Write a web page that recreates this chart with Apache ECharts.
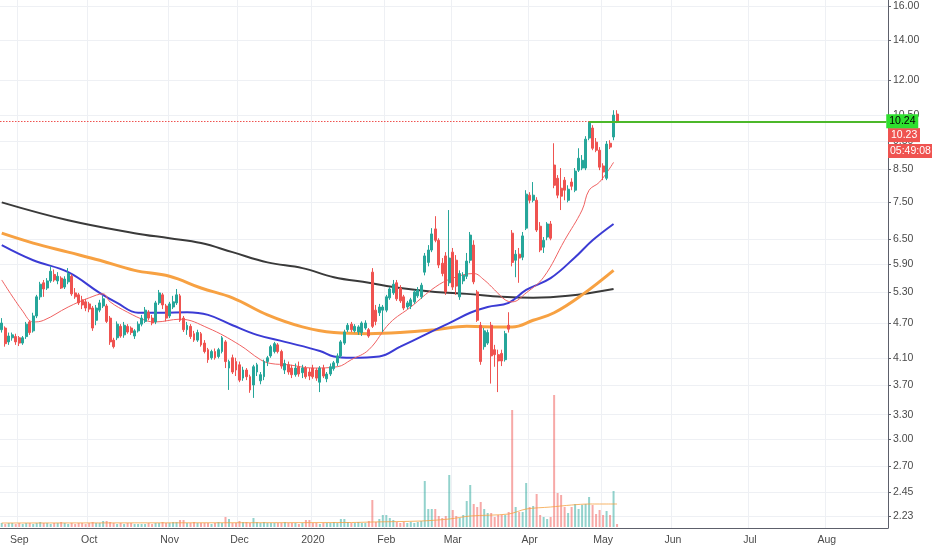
<!DOCTYPE html>
<html>
<head>
<meta charset="utf-8">
<script src="https://cdn.jsdelivr.net/npm/echarts@6/dist/echarts.min.js"></script>
<style>
  html, body { margin: 0; padding: 0; background: #fff; }
  #chart { width: 932px; height: 550px; }
</style>
</head>
<body>
<div id="chart"></div>
<script>
// daily bars, [open, close, low, high]
var ohlc = [
  [4.58,4.70,4.53,4.79],[4.61,4.34,4.29,4.64],[4.37,4.47,4.32,4.53],[4.44,4.49,4.39,4.53],[4.46,4.37,4.32,4.51],
  [4.44,4.35,4.30,4.47],[4.35,4.44,4.32,4.47],[4.46,4.68,4.42,4.72],[4.72,4.53,4.49,4.75],[4.56,4.83,4.53,4.89],
  [4.83,5.20,4.79,5.24],[5.20,5.46,5.14,5.51],[5.49,5.36,5.20,5.55],[5.38,5.53,5.34,5.59],[5.53,5.74,5.49,5.85],
  [5.67,5.55,5.51,5.78],[5.53,5.63,5.46,5.72],[5.59,5.38,5.36,5.63],[5.40,5.57,5.36,5.63],[5.51,5.69,5.46,5.81],
  [5.63,5.26,5.22,5.67],[5.28,5.20,5.16,5.38],[5.24,5.08,5.04,5.28],[5.14,5.04,4.96,5.22],[5.10,4.98,4.92,5.16],
  [5.06,4.96,4.90,5.10],[4.98,4.61,4.56,5.02],[4.75,4.98,4.66,5.04],[4.94,5.08,4.90,5.14],[5.02,5.16,4.98,5.22],
  [5.02,4.73,4.70,5.06],[4.79,4.37,4.32,4.83],[4.40,4.29,4.26,4.44],[4.44,4.68,4.40,4.73],[4.64,4.47,4.44,4.68],
  [4.49,4.66,4.44,4.72],[4.64,4.54,4.51,4.68],[4.61,4.53,4.49,4.64],[4.47,4.56,4.42,4.59],[4.56,4.68,4.53,4.73],
  [4.68,4.79,4.64,4.85],[4.73,4.94,4.70,5.00],[4.90,4.79,4.75,4.94],[4.79,4.70,4.66,4.85],[4.72,5.08,4.68,5.12],
  [5.08,5.28,5.04,5.34],[5.24,5.04,4.96,5.28],[5.02,4.79,4.73,5.06],[4.83,5.06,4.79,5.10],[5.00,5.10,4.96,5.22],
  [5.08,5.24,5.04,5.36],[5.22,4.75,4.72,5.26],[4.79,4.58,4.54,4.83],[4.58,4.66,4.49,4.72],[4.64,4.46,4.42,4.68],
  [4.51,4.40,4.37,4.56],[4.40,4.53,4.37,4.58],[4.51,4.32,4.29,4.54],[4.35,4.21,4.18,4.40],[4.24,4.08,4.03,4.27],
  [4.11,4.21,4.08,4.24],[4.21,4.11,4.08,4.26],[4.13,4.24,4.10,4.27],[4.21,4.44,4.18,4.47],[4.37,4.05,3.95,4.40],
  [3.95,4.05,3.63,4.08],[4.11,3.89,3.86,4.16],[4.05,3.92,3.83,4.11],[4.00,3.77,3.74,4.05],[3.80,3.92,3.76,3.97],
  [3.92,3.82,3.77,3.95],[3.82,3.63,3.59,3.85],[3.70,3.97,3.52,4.00],[3.89,4.00,3.83,4.03],[3.76,3.85,3.71,3.89],
  [3.82,4.05,3.77,4.08],[4.05,4.11,3.98,4.14],[4.14,4.29,4.11,4.32],[4.21,4.34,4.18,4.37],[4.32,4.21,4.18,4.35],
  [4.21,3.98,3.94,4.24],[3.92,4.02,3.86,4.08],[4.00,3.89,3.85,4.05],[3.95,3.85,3.80,4.00],[3.85,3.95,3.82,4.02],
  [3.97,3.86,3.82,4.05],[3.88,3.95,3.80,4.00],[3.95,3.82,3.79,3.98],[3.89,3.83,3.77,3.95],[3.95,3.82,3.79,4.00],
  [3.92,3.80,3.76,3.95],[3.74,3.95,3.60,3.98],[3.95,3.83,3.80,4.00],[3.79,3.86,3.74,3.89],[3.86,3.97,3.83,4.02],
  [3.94,4.03,3.91,4.06],[4.03,4.14,3.98,4.18],[4.14,4.37,4.11,4.40],[4.35,4.54,4.32,4.58],[4.58,4.66,4.54,4.70],
  [4.68,4.58,4.54,4.72],[4.56,4.64,4.53,4.68],[4.54,4.63,4.49,4.66],[4.53,4.70,4.47,4.73],[4.61,4.70,4.58,4.75],
  [4.58,4.47,4.44,4.61],[5.72,4.64,4.61,5.81],[4.94,4.73,4.66,5.04],[4.89,5.00,4.83,5.06],[4.94,5.00,4.54,5.04],
  [4.94,5.20,4.90,5.24],[5.18,5.36,5.14,5.40],[5.28,5.46,5.24,5.55],[5.49,5.16,5.12,5.55],[5.38,5.12,5.08,5.44],
  [5.20,4.98,4.94,5.24],[5.00,5.08,4.96,5.12],[5.02,5.14,4.96,5.18],[5.10,5.30,5.06,5.34],[5.22,5.34,5.18,5.40],
  [5.20,5.44,5.16,5.49],[5.72,6.09,5.65,6.16],[5.94,6.23,5.85,6.35],[6.23,6.63,6.18,6.78],[6.76,6.47,6.42,7.10],
  [6.47,5.88,5.81,6.52],[5.92,5.69,5.63,6.04],[6.09,5.30,5.24,6.18],[5.49,6.04,5.42,7.27],[6.18,5.40,5.34,6.28],
  [5.99,5.42,5.24,6.11],[5.20,5.69,5.14,5.76],[5.53,5.65,5.46,5.72],[5.63,5.97,5.57,6.16],[5.99,6.60,5.92,6.68],
  [6.35,5.51,5.46,6.47],[5.30,4.75,4.72,5.34],[4.66,4.05,4.00,4.72],[4.29,4.56,4.24,4.61],[4.35,4.53,4.32,4.58],
  [4.66,4.14,3.72,4.72],[4.24,4.16,3.97,4.32],[4.16,4.06,3.60,4.24],[4.18,4.06,3.98,4.24],[4.08,4.51,4.05,4.56],
  [4.66,4.59,4.53,4.90],[6.65,5.94,5.85,6.73],[5.99,6.13,5.61,6.23],[6.13,6.04,5.49,6.28],[6.06,6.58,5.99,6.68],
  [6.78,7.73,6.73,7.85],[7.70,7.55,7.46,7.79],[7.55,7.70,7.49,8.10],[7.55,6.73,6.68,7.64],[6.83,6.23,6.18,6.94],
  [6.30,6.47,6.16,6.55],[6.55,6.89,6.47,6.94],[6.89,6.52,6.47,6.97],[8.65,8.00,7.91,9.41],[8.22,7.70,7.61,8.32],
  [7.91,7.67,7.27,8.55],[8.16,7.85,7.55,8.26],[7.55,7.88,7.49,8.00],[8.10,7.97,7.85,8.22],[7.85,8.45,7.79,8.55],
  [8.48,8.88,8.42,9.23],[8.55,8.81,8.48,8.99],[8.55,9.56,8.48,9.67],[9.60,10.17,9.52,10.24],[9.98,9.23,9.16,10.09],
  [9.45,9.16,9.09,9.60],[9.16,8.58,8.48,9.27],[8.62,8.42,8.16,8.71],[8.22,9.38,8.16,9.49],[9.41,9.27,9.20,9.52],
  [9.64,10.49,9.52,10.69],[10.53,10.23,10.17,10.69]
];

// volume per bar (x10k shares)
var volume = [
  4,3,4,4,3,4,3,4,4,3, 4,5,4,4,3,4,4,5,4,3, 4,3,4,4,3,4,5,4,4,6, 6,5,4,3,4,3,4,4,3,3,
  3,3,4,3,4,4,5,4,4,5, 5,7,7,4,4,5,4,4,4,4, 3,4,5,4,10,8,4,4,6,5, 5,4,9,5,4,5,4,4,4,4,
  4,5,4,4,4,3,4,7,7,4, 4,3,4,4,4,5,4,8,8,5, 4,4,5,4,4,6,
  27, 5,8,12,12,9,7,5,4,5,4,5,4,5,6,
  46, 18,18,18,11,9,11,
  52, 17,11,9,12,26,
  42, 23,20,25,18,14,14,10,12,12,12,15,
  117, 20,15,15,
  44, 20,21,33,12,10,8,10,
  132, 34,32,20,14,20,23,18,22,23,30,22,13,17,12,16,12,36,3
];

// moving averages: [bar index, value]
var ma20 = [[0,5.55],[6,4.92],[9,4.72],[12,4.75],[19,5.00],[25,5.18],[29,5.26],[31,5.10],[36,4.90],[41,4.75],
  [44,4.72],[51,4.77],[59,4.61],[68,4.32],[74,4.08],[77,4.02],[82,4.00],[89,3.95],[96,3.97],[100,4.08],
  [105,4.24],[111,4.70],[117,5.00],[124,5.40],[129,5.59],[135,5.69],[138,5.55],[141,5.34],[144,5.14],[146,5.10],
  [150,5.28],[155,5.61],[161,6.47],[166,7.27],[168,7.85],[171,8.10],[175,8.74]];
var ma50 = [[0,6.35],[9,5.99],[19,5.72],[28,5.28],[33,5.08],[39,4.89],[46,4.89],[53,4.90],[59,4.85],[66,4.66],
  [73,4.49],[81,4.37],[91,4.22],[95,4.13],[100,4.11],[108,4.13],[114,4.29],[121,4.49],[128,4.70],[134,4.89],
  [139,5.00],[145,5.08],[150,5.34],[157,5.59],[164,6.06],[169,6.47],[175,6.89]];
var ma100 = [[0,6.65],[9,6.40],[19,6.18],[28,5.99],[38,5.76],[48,5.63],[57,5.38],[66,5.18],[76,4.85],[86,4.63],
  [95,4.53],[105,4.51],[114,4.53],[124,4.58],[133,4.64],[143,4.63],[146,4.63],[152,4.75],[158,4.89],[166,5.24],[175,5.76]];
var ma200 = [[0,7.49],[19,6.99],[38,6.65],[48,6.52],[57,6.40],[66,6.18],[76,5.94],[86,5.81],[95,5.61],[105,5.49],
  [114,5.38],[124,5.30],[133,5.26],[143,5.20],[152,5.18],[162,5.22],[175,5.36]];
var volMa = [[0,4],[50,4.2],[100,4.5],[106,5],[120,6],[128,8],[134,11],[145,13],[150,18],[157,20],[163,22],[168,23],[176,23]];

var priceTicks = [2.23, 2.45, 2.70, 3.00, 3.30, 3.70, 4.10, 4.70, 5.30, 5.90, 6.50, 7.50, 8.50, 9.50, 10.50, 12.00, 14.00, 16.00];
var levelPrice = 10.24, levelStart = 168;
var lastPrice = 10.23, countdown = "05:49:08";

// trading days from 2019-08-26, future days included to fill the axis
var holidays = ["2019-09-02","2019-11-28","2019-12-25","2020-01-01","2020-01-20","2020-02-17","2020-04-10","2020-05-25","2020-07-03"];
var dates = [];
(function () {
  var d = new Date(Date.UTC(2019, 7, 26));
  while (dates.length < 254) {
    var s = d.toISOString().slice(0, 10);
    var wd = d.getUTCDay();
    if (wd !== 0 && wd !== 6 && holidays.indexOf(s) < 0) dates.push(s);
    d.setUTCDate(d.getUTCDate() + 1);
  }
})();

var monthNames = ["Jan","Feb","Mar","Apr","May","Jun","Jul","Aug","Sep","Oct","Nov","Dec"];
function isMonthStart(i) {
  return i > 0 && dates[i].slice(5, 7) !== dates[i - 1].slice(5, 7);
}
function monthLabel(v) {
  var m = +v.slice(5, 7);
  return m === 1 ? v.slice(0, 4) : monthNames[m - 1];
}

var UP = "#26a69a", DOWN = "#ef5350";
var font = "'Liberation Sans', Arial, sans-serif";

var volData = volume.map(function (v, i) {
  var up = ohlc[i][1] >= ohlc[i][0];
  return { value: v, itemStyle: { color: up ? "rgba(38,166,154,0.5)" : "rgba(239,83,80,0.5)" } };
});

var myChart = echarts.init(document.getElementById("chart"));
var option = {
  animation: false,
  backgroundColor: "#ffffff",
  grid: [
    { left: 0, right: 44, top: 0, bottom: 22 },
    { left: 0, right: 44, top: 395, bottom: 23 }
  ],
  xAxis: [
    {
      type: "category",
      data: dates,
      gridIndex: 0,
      axisLine: { lineStyle: { color: "#5d606b" } },
      axisTick: { interval: function (i) { return isMonthStart(i); }, alignWithLabel: true, length: 3, lineStyle: { color: "#5d606b" } },
      axisLabel: {
        interval: function (i) { return isMonthStart(i); },
        formatter: monthLabel,
        color: "#4a4a4a", fontSize: 10.5, fontFamily: font, margin: 7
      },
      splitLine: { show: true, interval: function (i) { return isMonthStart(i); }, lineStyle: { color: "#eef0f4" } }
    },
    {
      type: "category",
      data: dates,
      gridIndex: 1,
      show: false
    }
  ],
  yAxis: [
    {
      type: "log",
      logBase: 10,
      position: "right",
      gridIndex: 0,
      min: 2.13,
      max: 16.36,
      axisLine: { show: true, lineStyle: { color: "#5d606b" } },
      axisTick: { show: true, customValues: priceTicks, length: 3, lineStyle: { color: "#5d606b" } },
      axisLabel: {
        customValues: priceTicks,
        formatter: function (v) { return v.toFixed(2); },
        color: "#4a4a4a", fontSize: 10.5, fontFamily: font, margin: 5
      },
      splitLine: { show: true, lineStyle: { color: "#eef0f4" } }
    },
    {
      type: "value",
      gridIndex: 1,
      min: 0,
      max: 132,
      show: false,
      splitLine: { show: false }
    }
  ],
  series: [
    {
      name: "volume",
      type: "bar",
      xAxisIndex: 1,
      yAxisIndex: 1,
      barWidth: 2,
      data: volData,
      z: 1
    },
    {
      name: "volMa",
      type: "line",
      xAxisIndex: 1,
      yAxisIndex: 1,
      data: volMa,
      smooth: 0.3,
      showSymbol: false,
      lineStyle: { color: "#f5a142", width: 1, opacity: 0.8 },
      z: 1
    },
    {
      name: "MA200",
      type: "line",
      data: ma200,
      smooth: 0.4,
      showSymbol: false,
      lineStyle: { color: "#3a3a3a", width: 2 },
      z: 3
    },
    {
      name: "MA100",
      type: "line",
      data: ma100,
      smooth: 0.4,
      showSymbol: false,
      lineStyle: { color: "#f7a142", width: 3 },
      z: 3
    },
    {
      name: "MA50",
      type: "line",
      data: ma50,
      smooth: 0.4,
      showSymbol: false,
      lineStyle: { color: "#3b3bd4", width: 2 },
      z: 3
    },
    {
      name: "MA20",
      type: "line",
      data: ma20,
      smooth: 0.4,
      showSymbol: false,
      lineStyle: { color: "#f06262", width: 1 },
      z: 3
    },
    {
      name: "price",
      type: "candlestick",
      data: ohlc,
      barWidth: 2.4,
      itemStyle: { color: UP, color0: DOWN, borderColor: UP, borderColor0: DOWN, borderWidth: 1 },
      z: 4,
      markLine: {
        silent: true,
        symbol: ["none", "none"],
        data: [
          {
            yAxis: lastPrice,
            lineStyle: { color: DOWN, type: [1.5, 1.5], width: 1 },
            label: {
              position: "end",
              distance: 0,
              formatter: "{s| }\n{p|" + lastPrice.toFixed(2) + "}\n{g| }\n{t|" + countdown + "}",
              rich: {
                s: { height: 43, lineHeight: 43 },
                p: { backgroundColor: DOWN, color: "#fff", fontSize: 10.5, fontFamily: font, height: 14, lineHeight: 14, width: 26, padding: [0, 3] },
                g: { height: 2, lineHeight: 2, fontSize: 2 },
                t: { backgroundColor: DOWN, color: "#fff", fontSize: 10.5, fontFamily: font, height: 14, lineHeight: 14, padding: [0, 2] }
              }
            }
          },
          [
            {
              coord: [dates[levelStart], levelPrice],
              lineStyle: { color: "#4cb82a", type: "solid", width: 2 },
              label: {
                position: "end",
                distance: 0,
                formatter: levelPrice.toFixed(2),
                backgroundColor: "#2ee02e",
                color: "#000",
                fontSize: 10.5,
                fontFamily: font,
                height: 14,
                lineHeight: 14,
                width: 26,
                padding: [0, 3]
              }
            },
            { coord: [dates[dates.length - 1], levelPrice] }
          ]
        ]
      }
    }
  ]
};
myChart.setOption(option);

window.addEventListener("resize", function () {
  myChart.resize();
});
</script>
</body>
</html>
